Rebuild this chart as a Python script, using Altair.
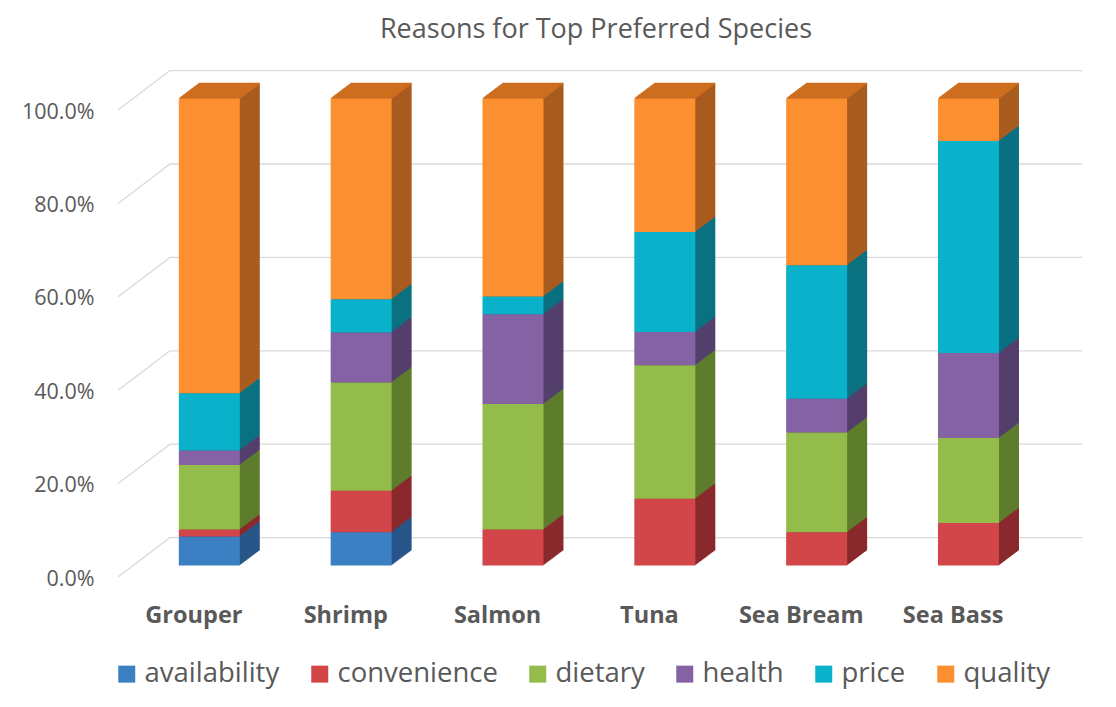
import altair as alt
import pandas as pd

species = ["Grouper", "Shrimp", "Salmon", "Tuna", "Sea Bream", "Sea Bass"]
reasons = ["availability", "convenience", "dietary", "health", "price", "quality"]

# percentage of respondents per reason
availability = [6.2, 7.1, 0.0, 0.0, 0.0, 0.0]
convenience = [1.5, 8.9, 7.7, 14.3, 7.1, 9.1]
dietary = [13.8, 23.2, 26.9, 28.6, 21.4, 18.2]
health = [3.1, 10.7, 19.2, 7.1, 7.2, 18.2]
price = [12.3, 7.1, 3.8, 21.4, 28.6, 45.4]
quality = [63.1, 43.0, 42.4, 28.6, 35.7, 9.1]

y_ticks = [0.0, 0.2, 0.4, 0.6, 0.8, 1.0]

front_colors = ["#3B80C2", "#D24548", "#94BC4A", "#8462A4", "#0AB1CB", "#FC8F30"]
side_colors = ["#28568A", "#8A2A2D", "#5E7D2D", "#543F6C", "#0A7181", "#A95C1F"]
top_color = "#CD6E1F"

series = [availability, convenience, dietary, health, price, quality]
rows = []
for ri, (reason, vals) in enumerate(zip(reasons, series)):
    for sp, v in zip(species, vals):
        rows.append({"species": sp, "reason": reason, "order": ri,
                     "value": v / 100.0, "side": side_colors[ri]})
df = pd.DataFrame(rows)
gdf = pd.DataFrame({"g": y_ticks})

GRAY = "#595959"
FONT = "Open Sans"
W, H = 911, 467
BAR_W = 61
FX, FY = 15.4, -11.5      # front face shift from axis plane
DX, DY = 20.0, -15.0      # bar depth
WX, WY = 52, -39.4        # back wall shift
K = 20

yscale = alt.Scale(domain=[0, 1], nice=False, zero=True)
yaxis = alt.Axis(values=y_ticks, format=".1%", labelFontSize=21.5, labelFont=FONT,
                 labelColor=GRAY, grid=False, domain=False, ticks=False,
                 labelPadding=24, labelOffset=2, title=None)
xaxis = alt.Axis(labelAngle=0, labelFontSize=23.5, labelFont=FONT, labelFontWeight="bold",
                 labelColor=GRAY, domain=False, ticks=False, labelPadding=26, title=None)
X = alt.X("species:N", sort=species, scale=alt.Scale(paddingInner=0, paddingOuter=0), axis=xaxis)

base = alt.Chart(df).transform_stack(
    stack="value", groupby=["species"], as_=["y0", "y1"],
    sort=[alt.SortField("order", order="ascending")]
).transform_filter(alt.datum.value > 0)

hgrid = alt.Chart(gdf).mark_rule(color="#D9D9D9", strokeWidth=1.3, yOffset=WY).encode(
    x=alt.value(WX), x2=alt.value(964), y=alt.Y("g:Q", scale=yscale, axis=yaxis)
)
diag = alt.Chart(gdf).mark_rule(color="#D9D9D9", strokeWidth=1.3, y2Offset=WY).encode(
    x=alt.value(0), x2=alt.value(WX), y=alt.Y("g:Q", scale=yscale, axis=yaxis), y2="g:Q"
)

layers = [hgrid, diag]
for k in range(K, 0, -1):
    dx = FX + DX * k / K
    dy = FY + DY * k / K
    side = base.mark_bar(size=BAR_W, xOffset=dx, yOffset=dy, y2Offset=dy, opacity=1).encode(
        x=X, y=alt.Y("y0:Q", scale=yscale, axis=yaxis), y2="y1:Q",
        color=alt.Color("side:N", scale=None)
    )
    top = base.transform_filter(alt.datum.reason == "quality").mark_tick(
        size=BAR_W, thickness=1.6, xOffset=dx, yOffset=dy, color=top_color, opacity=1
    ).encode(x=X, y=alt.Y("y1:Q", scale=yscale, axis=yaxis))
    layers += [side, top]

front = base.mark_bar(size=BAR_W, xOffset=FX, yOffset=FY, y2Offset=FY, opacity=1).encode(
    x=X, y=alt.Y("y0:Q", scale=yscale, axis=yaxis), y2="y1:Q",
    color=alt.Color("reason:N", sort=reasons,
                    scale=alt.Scale(domain=reasons, range=front_colors),
                    legend=alt.Legend(orient="none", legendX=-5, legendY=550,
                                      direction="horizontal", title=None,
                                      symbolType="square", symbolSize=289,
                                      symbolStrokeWidth=0, labelFontSize=27.5,
                                      labelFont=FONT, labelColor=GRAY, labelLimit=400,
                                      columnPadding=26, labelOffset=4)),
    order=alt.Order("order:Q")
)
layers.append(front)

chart = alt.layer(*layers).properties(
    width=W, height=H,
    title=alt.TitleParams("Reasons for Top Preferred Species", fontSize=27, font=FONT,
                          fontWeight="normal", color=GRAY, anchor="middle", dx=22.5,
                          offset=26),
    autosize=alt.AutoSizeParams(type="none"),
    padding={"left": 110, "top": 102, "right": 70, "bottom": 120},
).configure_view(stroke=None)

chart.save("out.html", embed_options={"renderer": "svg", "actions": False})
